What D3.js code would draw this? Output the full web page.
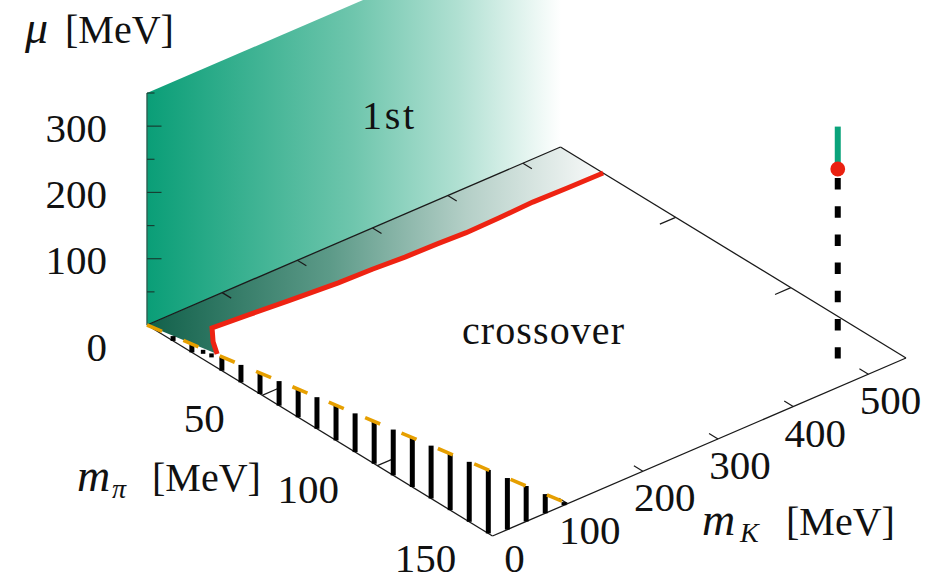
<!DOCTYPE html>
<html><head><meta charset="utf-8">
<script src="https://cdn.jsdelivr.net/npm/d3@7"></script>
<style>html,body{margin:0;padding:0;background:#fff;overflow:hidden}
text{font-family:"Liberation Serif",serif;fill:#111}</style></head>
<body><div id="chart"></div>
<script>
const mPiTicks=[50,100,150];
const mKTicks=[0,100,200,300,400,500];
const muTicks=[0,100,200,300];
const muMinorTicks=[50,150,250,350];
const mPiMax=150, mKMax=550, muMax=350;
const redMPi=[18.5,18.3,18.0,18.5,18.8,18.3,18.0,17.2,16.8,15.3,14.0,12.9,18.9,24.7];
const redMK=[550,503,458,412,367,330,288,247,203,141,92,47,30,17.6];
const boundaryMPi=[0,150];
const boundaryMK=[0,100];
const hatchMPi=[9.3,16,26.7,33.5,40.3,47.1,53.9,60.6,67.4,74.2,81,87.8,94.6,101.3,108.1,114.9,121.7,128.5,135.2,142,148.7];
const hatchShortMPi=[20,23];
const physMPi=138, physMK=496, physMu=286;

const W=942,H=580;
const ox=147,oy=325;
const xPi=d3.scaleLinear([0,mPiMax],[0,345.5]), yPi=d3.scaleLinear([0,mPiMax],[0,211]);
const xK=d3.scaleLinear([0,mKMax],[0,413.5]), yK=d3.scaleLinear([0,mKMax],[0,-178]);
const zS=d3.scaleLinear([0,muMax],[0,-232]);
const px=(m,k)=>ox+xPi(m)+xK(k);
const py=(m,k,z=0)=>oy+yPi(m)+yK(k)+zS(z);
const P=(m,k,z=0)=>[px(m,k),py(m,k,z)];
const bK=d3.scaleLinear(boundaryMPi,boundaryMK);

const svg=d3.select('#chart').append('svg').attr('width',W).attr('height',H).style('display','block');
const defs=svg.append('defs');
function grad(id,x1,x2,stops){
  const g=defs.append('linearGradient').attr('id',id).attr('gradientUnits','userSpaceOnUse')
    .attr('x1',x1).attr('x2',x2).attr('y1',0).attr('y2',0);
  stops.forEach(s=>g.append('stop').attr('offset',s[0]).attr('stop-color',s[1]));
}
grad('wall',px(0,0),px(0,mKMax)+1,[[0,'#0a9e77'],[.5,'#6fc6ad'],[.75,'#b0e0d2'],[1,'#ffffff']]);
grad('floor',px(0,0),px(18.5,mKMax),[[0,'#11604a'],[.4,'#5c9a88'],[.7,'#b4cfc7'],[1,'#fafafa']]);

const line=d3.line();
// wall
svg.append('path').attr('d',line([P(0,0),P(0,0,muMax),P(0,mKMax,muMax),P(0,mKMax)])+'Z').attr('fill','url(#wall)');
// floor shade
const red=redMPi.map((m,i)=>P(m,redMK[i]));
svg.append('path').attr('d',line([P(0,0),P(0,mKMax),...red])+'Z').attr('fill','url(#floor)');
// edges
const edges=[[P(0,0),P(0,mKMax)],[P(0,mKMax),P(mPiMax,mKMax)],[P(mPiMax,mKMax),P(mPiMax,0)],[P(mPiMax,0),P(0,0)]];
const edgeG=svg.append('g').attr('stroke','#1a1a1a').attr('stroke-width',1.3).attr('fill','none');
edges.forEach(e=>edgeG.append('path').attr('d',line(e)));
svg.append('path').attr('d',line([P(0,0),P(0,0,muMax)])).attr('stroke','#2b5e50').attr('stroke-width',1.4).attr('fill','none');
// ticks
const tk=(a,b,w=1.2)=>edgeG.append('path').attr('d',line([a,b])).attr('stroke-width',w);
mKTicks.filter(k=>k>0).forEach(k=>{tk(P(0,k),P(3.9,k));tk(P(mPiMax,k),P(mPiMax-3.9,k));});
mPiTicks.filter(m=>m<mPiMax).forEach(m=>{tk(P(m,0),P(m,21));tk(P(m,mKMax),P(m,mKMax-21));});
muTicks.filter(z=>z>0).forEach(z=>svg.append('path').attr('d',line([[ox,py(0,0,z)],[ox+14.5,py(0,0,z)]])).attr('stroke','#173f33').attr('stroke-width',1.2));
muMinorTicks.forEach(z=>svg.append('path').attr('d',line([[ox,py(0,0,z)],[ox+7.5,py(0,0,z)]])).attr('stroke','#173f33').attr('stroke-width',1.2));
// hatch
const edgeY=x=>{
  const d=x-ox;
  if(d<=xPi(mPiMax)){return py(xPi.invert(d),0);}
  return py(mPiMax,xK.invert(d-xPi(mPiMax)));
};
hatchMPi.forEach(m=>{
  const x=px(m,bK(m)), y=py(m,bK(m));
  svg.append('path').attr('d',line([[x,y],[x,edgeY(x)]])).attr('stroke','#000').attr('stroke-width',5).attr('fill','none');
});
hatchShortMPi.forEach(m=>{
  const x=px(m,bK(m)), y=py(m,bK(m));
  svg.append('path').attr('d',line([[x,y+1],[x,y+5]])).attr('stroke','#000').attr('stroke-width',4.5).attr('fill','none');
});
// boundary
svg.append('path').attr('d',line(boundaryMPi.map((m,i)=>P(m,boundaryMK[i]))))
  .attr('stroke','#e69f00').attr('stroke-width',3.6).attr('stroke-dasharray','16.3 23.2').attr('fill','none');
// red line
svg.append('path').attr('d',line(red)).attr('stroke','#ee2312').attr('stroke-width',5).attr('fill','none').attr('stroke-linejoin','miter');
// physical point
const bx=px(physMPi,physMK), by=py(physMPi,physMK);
svg.append('path').attr('d',line([P(physMPi,physMK,physMu),P(physMPi,physMK)])).attr('stroke','#000').attr('stroke-width',6)
  .attr('stroke-dasharray','11.5 16.7').attr('stroke-dashoffset',-9).attr('fill','none');
svg.append('path').attr('d',line([P(physMPi,physMK,physMu),P(physMPi,physMK,muMax)])).attr('stroke','#0aa37b').attr('stroke-width',6).attr('fill','none');
svg.append('circle').attr('cx',bx).attr('cy',py(physMPi,physMK,physMu)).attr('r',7.4).attr('fill','#ea2110');
// labels
const FS=41;
const label=(x,y,t)=>svg.append('text').attr('x',x).attr('y',y).attr('text-anchor','middle').attr('dominant-baseline','central').attr('font-size',FS).text(t);
muTicks.forEach(z=>{svg.append('text').attr('x',107).attr('y',py(0,0,z)+(z===0?22:1.5)).attr('text-anchor','end').attr('dominant-baseline','central').attr('font-size',FS).text(z);});
const piDx=[-58,-69,-67];
mPiTicks.forEach((m,i)=>label(px(m,0)+piDx[i],py(m,0)+(m===150?21.5:23),m));
mKTicks.forEach(k=>label(px(mPiMax,k)+22,py(mPiMax,k)+(k===0?21.5:26),k));
function axisLabel(x,y,sym,sub,subX,restX){
  const t=svg.append('text').attr('x',x).attr('y',y).attr('font-size',40);
  t.append('tspan').attr('font-style','italic').attr('font-size',46).text(sym);
  if(sub)t.append('tspan').attr('font-style','italic').attr('font-size',28).attr('x',subX).attr('y',y+7).text(sub);
  t.append('tspan').attr('x',restX).attr('y',y).text('[MeV]');
}
axisLabel(25,43,'μ',null,0,65);
axisLabel(77,491,'m','π',112,152);
axisLabel(702,535,'m','K',740,786);
svg.append('text').attr('x',362).attr('y',129).attr('font-size',40).attr('textLength',52).text('1st');
svg.append('text').attr('x',462).attr('y',344).attr('font-size',40).attr('textLength',162).text('crossover');
</script></body></html>
